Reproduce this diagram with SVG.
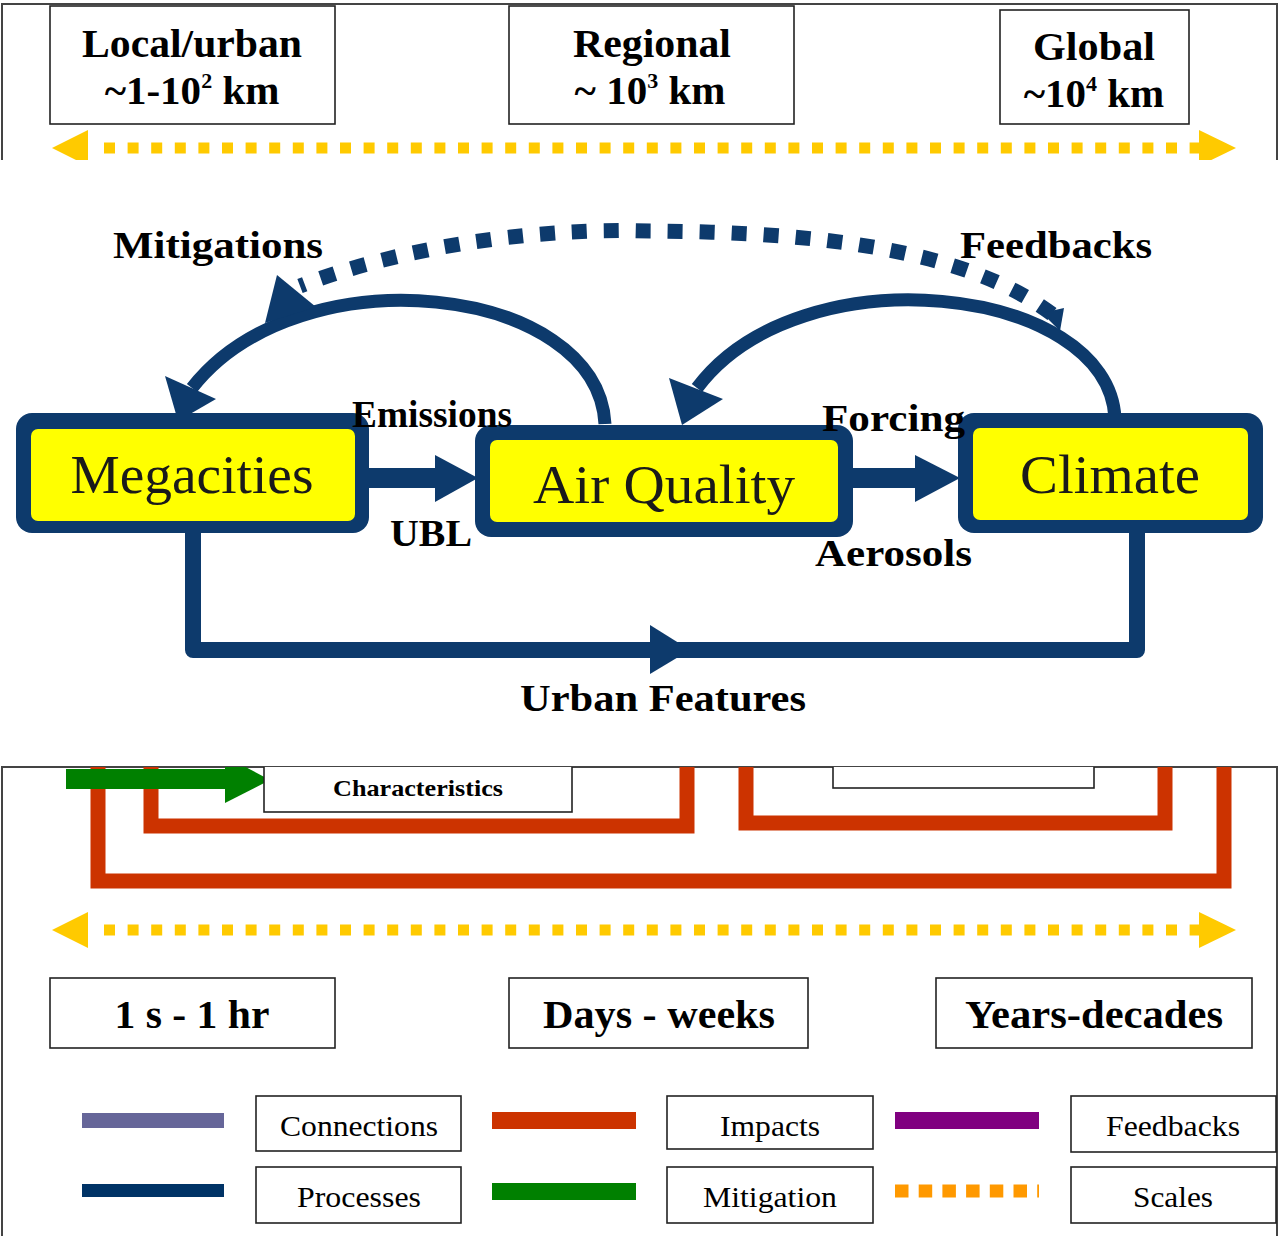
<svg xmlns="http://www.w3.org/2000/svg" width="1281" height="1236" viewBox="0 0 1281 1236">
<style>
.frame{fill:none;stroke:#444;stroke-width:2}
.box{fill:#fff;stroke:#222;stroke-width:1.6}
.scale{font-family:"Liberation Serif",serif;font-weight:bold;font-size:41px;fill:#000;text-anchor:middle}
.sup{font-size:22px}
.node-outer{fill:#0d3a6c}
.node-inner{fill:#ffff00}
.node-text{font-family:"Liberation Serif",serif;font-size:55px;fill:#1a1a1a;text-anchor:middle}
.lbl{font-family:"Liberation Serif",serif;font-weight:bold;font-size:38px;fill:#000}
.proc{fill:none;stroke:#0d3a6c}
.ydash{fill:none;stroke:#ffca00;stroke-width:11;stroke-dasharray:11 12.6}
.yhead{fill:#ffca00}
.red{fill:none;stroke:#cc3300;stroke-width:15;stroke-linejoin:miter}
.leg{font-family:"Liberation Serif",serif;font-size:30px;fill:#000;text-anchor:middle}
.time{font-family:"Liberation Serif",serif;font-weight:bold;font-size:40px;fill:#000;text-anchor:middle}
</style>
<defs>
<clipPath id="clipTop"><rect x="0" y="0" width="1281" height="160"/></clipPath>
<clipPath id="clipBot"><rect x="0" y="767" width="1281" height="469"/></clipPath>
</defs>
<rect x="0" y="0" width="1281" height="1236" fill="#fff"/>

<!-- Top panel: spatial scales -->
<g id="top-panel" clip-path="url(#clipTop)">
<path class="frame" d="M2 162 V4 H1277 V162"/>
<g id="scale-local">
<rect class="box" x="50" y="6" width="285" height="118"/>
<text class="scale" x="192" y="57" textLength="220" lengthAdjust="spacingAndGlyphs">Local/urban</text>
<text class="scale" x="192" y="104">~1-10<tspan class="sup" dy="-16">2</tspan><tspan dy="16"> km</tspan></text>
</g>
<g id="scale-regional">
<rect class="box" x="509" y="6" width="285" height="118"/>
<text class="scale" x="652" y="57" textLength="158" lengthAdjust="spacingAndGlyphs">Regional</text>
<text class="scale" x="650" y="104">~ 10<tspan class="sup" dy="-16">3</tspan><tspan dy="16"> km</tspan></text>
</g>
<g id="scale-global">
<rect class="box" x="1000" y="10" width="189" height="114"/>
<text class="scale" x="1094" y="60" textLength="122" lengthAdjust="spacingAndGlyphs">Global</text>
<text class="scale" x="1094" y="107">~10<tspan class="sup" dy="-16">4</tspan><tspan dy="16"> km</tspan></text>
</g>
<g id="space-arrow">
<line class="ydash" x1="104" y1="148" x2="1199" y2="148"/>
<polygon class="yhead" points="52,148 88,130 88,166"/>
<polygon class="yhead" points="1236,148 1199,130 1199,166"/>
</g>
</g>

<!-- Middle diagram connectors -->
<g id="connectors">
<path class="proc" stroke-width="13" d="M605 424 C598 285 300 250 192 388"/>
<polygon fill="#0d3a6c" points="165,376 216,399 178,421"/>
<path class="proc" stroke-width="13" d="M1115 418 C1108 285 800 250 697 388"/>
<polygon fill="#0d3a6c" points="669,378 723,399 682,425"/>
<path fill="none" stroke="#0d3a6c" stroke-width="15" stroke-dasharray="15 17" d="M1052 314 C960 245 800 232 650 231 C560 228 420 240 300 286"/>
<polygon fill="#0d3a6c" points="277,275 265,323 316,307"/>
<polygon fill="#0d3a6c" points="1042,313 1064,308 1060,331"/>
<line class="proc" stroke-width="20" x1="360" y1="478" x2="440" y2="478"/>
<polygon fill="#0d3a6c" points="435,455 478,478 435,502"/>
<line class="proc" stroke-width="20" x1="845" y1="478" x2="920" y2="478"/>
<polygon fill="#0d3a6c" points="915,455 960,478 915,502"/>
<path class="proc" stroke-width="16" stroke-linejoin="round" d="M193 525 V650 H1137 V525"/>
<polygon fill="#0d3a6c" points="650,625 690,650 650,674"/>
</g>

<g id="node-megacities">
<rect class="node-outer" x="16" y="413" width="353" height="120" rx="16"/>
<rect class="node-inner" x="31" y="429" width="324" height="92" rx="7"/>
<text class="node-text" x="192" y="493" textLength="243" lengthAdjust="spacingAndGlyphs">Megacities</text>
</g>
<g id="node-airquality">
<rect class="node-outer" x="475" y="425" width="378" height="112" rx="16"/>
<rect class="node-inner" x="490" y="440" width="348" height="82" rx="7"/>
<text class="node-text" x="664" y="503" textLength="262" lengthAdjust="spacingAndGlyphs">Air Quality</text>
</g>
<g id="node-climate">
<rect class="node-outer" x="958" y="413" width="305" height="120" rx="16"/>
<rect class="node-inner" x="973" y="428" width="275" height="92" rx="7"/>
<text class="node-text" x="1110" y="493" textLength="180" lengthAdjust="spacingAndGlyphs">Climate</text>
</g>

<g id="labels">
<text class="lbl" x="113" y="258" textLength="210" lengthAdjust="spacingAndGlyphs">Mitigations</text>
<text class="lbl" x="960" y="258" textLength="192" lengthAdjust="spacingAndGlyphs">Feedbacks</text>
<text class="lbl" x="352" y="427" font-size="34" textLength="160" lengthAdjust="spacingAndGlyphs">Emissions</text>
<text class="lbl" x="822" y="431" font-size="36" textLength="143" lengthAdjust="spacingAndGlyphs">Forcing</text>
<text class="lbl" x="390" y="546" font-size="36" textLength="82" lengthAdjust="spacingAndGlyphs">UBL</text>
<text class="lbl" x="815" y="566" font-size="36" textLength="157" lengthAdjust="spacingAndGlyphs">Aerosols</text>
<text class="lbl" x="520" y="711" font-size="36" textLength="286" lengthAdjust="spacingAndGlyphs">Urban Features</text>
</g>

<!-- Bottom panel: time scales and legend -->
<g id="bottom-panel">
<path class="frame" d="M2 1236 V767 H1277 V1236"/>
<g clip-path="url(#clipBot)">
<path class="red" d="M151 760 V826 H687 V760"/>
<path class="red" d="M746 760 V823 H1165 V760"/>
<path class="red" d="M98 760 V881 H1224 V760"/>
<line x1="66" y1="779" x2="228" y2="779" stroke="#008000" stroke-width="20"/>
<polygon fill="#008000" points="225,756 270,780 225,803"/>
<g id="box-characteristics">
<rect class="box" x="264" y="760" width="308" height="52"/>
<text x="418" y="796" font-family="Liberation Serif, serif" font-weight="bold" font-size="23" text-anchor="middle" textLength="170" lengthAdjust="spacingAndGlyphs">Characteristics</text>
</g>
<rect class="box" x="833" y="760" width="261" height="28"/>
</g>
<g id="time-arrow">
<line class="ydash" x1="104" y1="930" x2="1199" y2="930"/>
<polygon class="yhead" points="52,930 88,912 88,948"/>
<polygon class="yhead" points="1236,930 1199,912 1199,948"/>
</g>
<g id="time-short">
<rect class="box" x="50" y="978" width="285" height="70"/>
<text class="time" x="192" y="1028" textLength="155" lengthAdjust="spacingAndGlyphs">1 s - 1 hr</text>
</g>
<g id="time-mid">
<rect class="box" x="509" y="978" width="299" height="70"/>
<text class="time" x="659" y="1028" textLength="232" lengthAdjust="spacingAndGlyphs">Days - weeks</text>
</g>
<g id="time-long">
<rect class="box" x="936" y="978" width="316" height="70"/>
<text class="time" x="1094" y="1028" textLength="258" lengthAdjust="spacingAndGlyphs">Years-decades</text>
</g>
<g id="legend">
<rect x="82" y="1113" width="142" height="15" fill="#666699"/>
<rect class="box" x="256" y="1096" width="205" height="55"/>
<text class="leg" x="359" y="1136" textLength="158" lengthAdjust="spacingAndGlyphs">Connections</text>
<rect x="492" y="1112" width="144" height="17" fill="#cc3300"/>
<rect class="box" x="667" y="1096" width="206" height="53"/>
<text class="leg" x="770" y="1136" textLength="100" lengthAdjust="spacingAndGlyphs">Impacts</text>
<rect x="895" y="1112" width="144" height="17" fill="#800080"/>
<rect class="box" x="1071" y="1096" width="205" height="56"/>
<text class="leg" x="1173" y="1136" textLength="134" lengthAdjust="spacingAndGlyphs">Feedbacks</text>
<rect x="82" y="1184" width="142" height="13" fill="#003366"/>
<rect class="box" x="256" y="1167" width="205" height="56"/>
<text class="leg" x="359" y="1207" textLength="124" lengthAdjust="spacingAndGlyphs">Processes</text>
<rect x="492" y="1183" width="144" height="17" fill="#008000"/>
<rect class="box" x="667" y="1167" width="206" height="56"/>
<text class="leg" x="770" y="1207" textLength="134" lengthAdjust="spacingAndGlyphs">Mitigation</text>
<line x1="895" y1="1191" x2="1039" y2="1191" stroke="#ff9900" stroke-width="13" stroke-dasharray="13.5 10.2"/>
<rect class="box" x="1071" y="1167" width="205" height="56"/>
<text class="leg" x="1173" y="1207" textLength="80" lengthAdjust="spacingAndGlyphs">Scales</text>
</g>
</g>
</svg>
